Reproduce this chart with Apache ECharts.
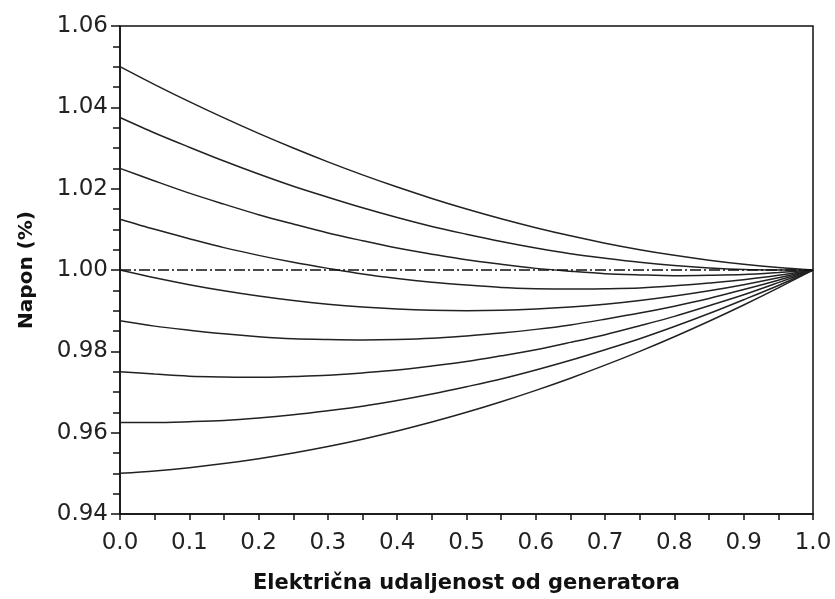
<!DOCTYPE html>
<html>
<head>
<meta charset="utf-8">
<script src="https://cdn.jsdelivr.net/npm/echarts@6/dist/echarts.min.js"></script>
<style>
html,body{margin:0;padding:0;background:#fff;}
#chart{width:835px;height:599px;}
</style>
</head>
<body>
<div id="chart"></div>
<script>
// x positions (electrical distance from generator)
var xs = [0, 0.05, 0.1, 0.15, 0.2, 0.25, 0.3, 0.35, 0.4, 0.45, 0.5, 0.55, 0.6, 0.65, 0.7, 0.75, 0.8, 0.85, 0.9, 0.95, 1.0];

// voltage profiles
var v1050 = [1.0500, 1.0456, 1.0414, 1.0374, 1.0336, 1.0300, 1.0266, 1.0234, 1.0204, 1.0176, 1.0150, 1.0126, 1.0104, 1.0084, 1.0066, 1.0050, 1.0036, 1.0024, 1.0014, 1.0006, 1.0000];
var v1038 = [1.0375, 1.0337, 1.0302, 1.0268, 1.0236, 1.0206, 1.0179, 1.0153, 1.0129, 1.0107, 1.0088, 1.0070, 1.0054, 1.0040, 1.0029, 1.0019, 1.0011, 1.0005, 1.0001, 1.0000, 1.0000];
var v1025 = [1.0250, 1.0219, 1.0189, 1.0162, 1.0136, 1.0113, 1.0091, 1.0072, 1.0054, 1.0039, 1.0025, 1.0014, 1.0004, 0.9997, 0.9991, 0.9988, 0.9986, 0.9987, 0.9989, 0.9994, 1.0000];
var v1013 = [1.0125, 1.0100, 1.0077, 1.0055, 1.0036, 1.0019, 1.0004, 0.9990, 0.9979, 0.9970, 0.9963, 0.9957, 0.9954, 0.9953, 0.9954, 0.9956, 0.9961, 0.9968, 0.9976, 0.9987, 1.0000];
var v1000 = [1.0000, 0.9981, 0.9964, 0.9949, 0.9936, 0.9925, 0.9916, 0.9909, 0.9904, 0.9901, 0.9900, 0.9901, 0.9904, 0.9909, 0.9916, 0.9925, 0.9936, 0.9949, 0.9964, 0.9981, 1.0000];
var v0988 = [0.9875, 0.9862, 0.9852, 0.9843, 0.9836, 0.9831, 0.9829, 0.9828, 0.9829, 0.9832, 0.9838, 0.9845, 0.9854, 0.9865, 0.9879, 0.9894, 0.9911, 0.9930, 0.9952, 0.9975, 1.0000];
var v0975 = [0.9750, 0.9744, 0.9739, 0.9737, 0.9736, 0.9738, 0.9741, 0.9747, 0.9754, 0.9764, 0.9775, 0.9789, 0.9804, 0.9822, 0.9841, 0.9863, 0.9886, 0.9912, 0.9939, 0.9969, 1.0000];
var v0963 = [0.9625, 0.9625, 0.9627, 0.9630, 0.9636, 0.9644, 0.9654, 0.9665, 0.9679, 0.9695, 0.9713, 0.9732, 0.9754, 0.9778, 0.9804, 0.9831, 0.9861, 0.9893, 0.9927, 0.9962, 1.0000];
var v0950 = [0.9500, 0.9506, 0.9514, 0.9524, 0.9536, 0.9550, 0.9566, 0.9584, 0.9604, 0.9626, 0.9650, 0.9676, 0.9704, 0.9734, 0.9766, 0.9800, 0.9836, 0.9874, 0.9914, 0.9956, 1.0000];

// reference line (dash-dot)
var refX = [0, 1];
var refV = [1.0, 1.0];

var profiles = [v1050, v1038, v1025, v1013, v1000, v0988, v0975, v0963, v0950];

function zip(a, b) { return a.map(function (x, i) { return [x, b[i]]; }); }

var series = [{
  type: 'line',
  data: zip(refX, refV),
  showSymbol: false,
  silent: true,
  z: 3,
  lineStyle: { color: '#111', width: 1.6, type: [11, 3, 2, 3] }
}];
profiles.forEach(function (p) {
  series.push({
    type: 'line',
    data: zip(xs, p),
    smooth: 0.3,
    showSymbol: false,
    silent: true,
    z: 2,
    lineStyle: { color: '#222', width: 1.5 }
  });
});

var chart = echarts.init(document.getElementById('chart'), null, { renderer: 'canvas' });
chart.setOption({
  animation: false,
  backgroundColor: '#fff',
  grid: {
    left: 120, right: 22, top: 26, bottom: 85,
    show: true, borderColor: '#111', borderWidth: 1.5, backgroundColor: 'transparent'
  },
  xAxis: {
    type: 'value', min: 0, max: 1, interval: 0.1,
    name: 'Električna udaljenost od generatora',
    nameLocation: 'middle', nameGap: 59,
    nameTextStyle: { fontFamily: 'DejaVu Sans', fontWeight: 'bold', fontSize: 21, color: '#111' },
    axisLine: { show: true, lineStyle: { color: '#111', width: 1.5 } },
    axisTick: { show: true, inside: false, length: 6, lineStyle: { color: '#111', width: 1.5 } },
    minorTick: { show: true, splitNumber: 2, length: 6, lineStyle: { color: '#111', width: 1.5 } },
    splitLine: { show: false },
    axisLabel: {
      margin: 18, fontFamily: 'DejaVu Sans', fontSize: 23, color: '#222',
      formatter: function (v) { return v.toFixed(1); }
    }
  },
  yAxis: {
    type: 'value', min: 0.94, max: 1.06, interval: 0.02,
    name: 'Napon (%)',
    nameLocation: 'middle', nameGap: 83, nameRotate: 90,
    nameTextStyle: { fontFamily: 'DejaVu Sans', fontWeight: 'bold', fontSize: 20, color: '#111' },
    axisLine: { show: true, lineStyle: { color: '#111', width: 1.5 } },
    axisTick: { show: true, inside: false, length: 9, lineStyle: { color: '#111', width: 1.5 } },
    minorTick: { show: true, splitNumber: 4, length: 7, lineStyle: { color: '#111', width: 1.5 } },
    splitLine: { show: false },
    axisLabel: {
      margin: 12, fontFamily: 'DejaVu Sans', fontSize: 23, color: '#222',
      formatter: function (v) { return v.toFixed(2); }
    }
  },
  series: series
});
</script>
</body>
</html>
